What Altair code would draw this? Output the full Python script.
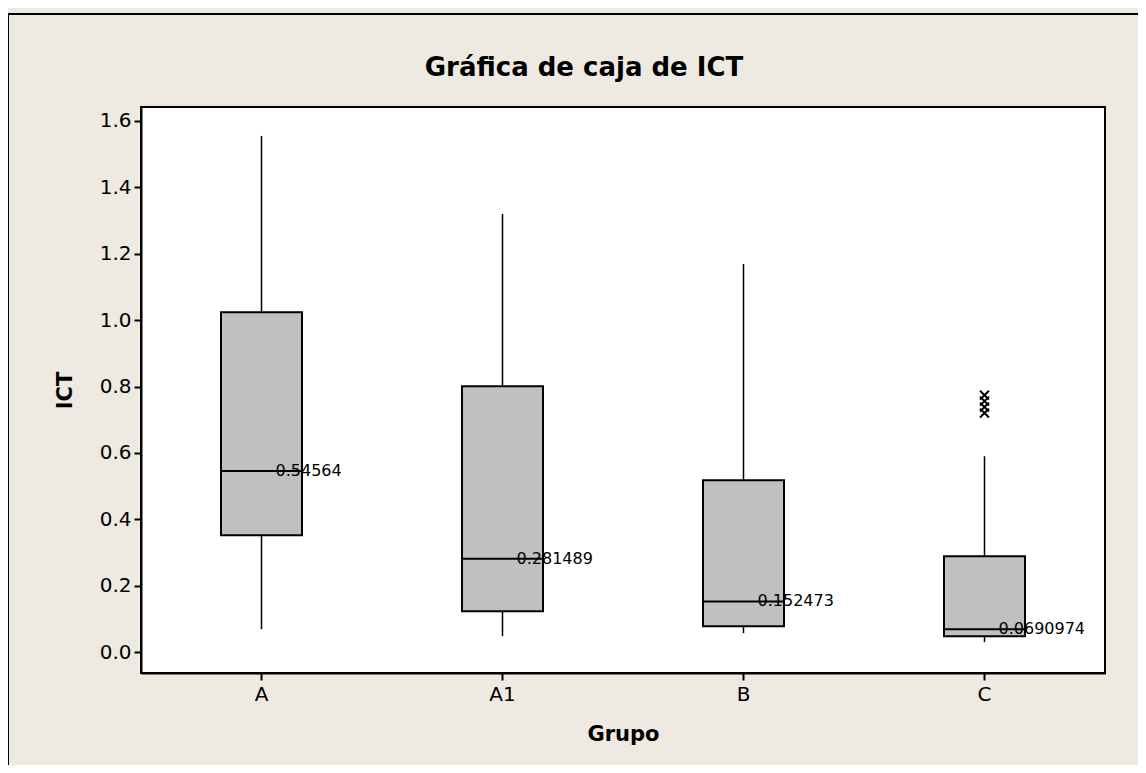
import altair as alt
import pandas as pd

grupos = ["A", "A1", "B", "C"]
whisker_low = [0.069, 0.048, 0.057, 0.030]
q1 = [0.352, 0.123, 0.078, 0.048]
medianas = [0.54564, 0.281489, 0.152473, 0.0690974]
q3 = [1.024, 0.801, 0.518, 0.289]
whisker_high = [1.555, 1.320, 1.169, 0.590]
etiquetas = ["0.54564", "0.281489", "0.152473", "0.0690974"]

outlier_grupo = ["C", "C", "C", "C"]
outlier_valor = [0.720, 0.738, 0.756, 0.774]

y_ticks = [0.0, 0.2, 0.4, 0.6, 0.8, 1.0, 1.2, 1.4, 1.6]

df = pd.DataFrame({
    "Grupo": grupos, "low": whisker_low, "q1": q1, "med": medianas,
    "q3": q3, "high": whisker_high, "lab": etiquetas,
})
df_out = pd.DataFrame({"Grupo": outlier_grupo, "ICT": outlier_valor})

FONT = "DejaVu Sans"
BG = "#EEEAE1"

xenc = alt.X("Grupo:N", scale=alt.Scale(domain=grupos, paddingInner=0, paddingOuter=0),
             axis=alt.Axis(title="Grupo", labelAngle=0, labelFontSize=20, labelFont=FONT,
                           labelColor="black", tickSize=7, tickColor="black", tickWidth=2,
                           domainColor="black", domainWidth=2, labelPadding=4,
                           titleFont=FONT, titleFontSize=21, titleFontWeight="bold",
                           titleColor="black", titlePadding=19))
yscale = alt.Scale(domain=[-0.063, 1.642], nice=False, zero=False)
yaxis = alt.Axis(title="ICT", values=y_ticks, format=".1f", labelFontSize=20, labelFont=FONT,
                 labelColor="black", tickSize=7, tickColor="black", tickWidth=2,
                 domainColor="black", domainWidth=2, grid=False, labelPadding=3,
                 titleFont=FONT, titleFontSize=21, titleFontWeight="bold",
                 titleColor="black", titlePadding=24)

base = alt.Chart(df)

whisk_lo = base.mark_rule(color="black", strokeWidth=1.5).encode(
    x=xenc, y=alt.Y("low:Q", scale=yscale, axis=yaxis), y2="q1:Q")
whisk_hi = base.mark_rule(color="black", strokeWidth=1.5).encode(
    x=xenc, y=alt.Y("q3:Q", scale=yscale, axis=yaxis), y2="high:Q")
box = base.mark_bar(size=81, color="#C0C0C0", stroke="black", strokeWidth=2).encode(
    x=xenc, y=alt.Y("q1:Q", scale=yscale, axis=yaxis), y2="q3:Q")
med = base.mark_tick(size=81, thickness=2, color="black", opacity=1).encode(
    x=xenc, y=alt.Y("med:Q", scale=yscale, axis=yaxis))
txt = base.mark_text(align="left", baseline="middle", dx=14, fontSize=16, font=FONT,
                     color="black").encode(
    x=xenc, y=alt.Y("med:Q", scale=yscale, axis=yaxis), text="lab:N")
outs = alt.Chart(df_out).mark_point(shape="M-1,-1L1,1M-1,1L1,-1", size=80, filled=False,
                                    color="black", strokeWidth=2, opacity=1).encode(
    x=xenc, y=alt.Y("ICT:Q", scale=yscale, axis=yaxis))

frame_left = alt.Chart(df).mark_rule(color="black", strokeWidth=2).encode(
    x=alt.value(-133), y=alt.value(-93), y2=alt.value(720))
frame_top = alt.Chart(df).mark_rule(color="black", strokeWidth=2).encode(
    x=alt.value(-133), x2=alt.value(1100), y=alt.value(-93))

chart = alt.layer(frame_left, frame_top, whisk_lo, whisk_hi, box, med, txt, outs).properties(
    width=964, height=566,
    autosize=alt.AutoSizeParams(type="none"),
    padding={"left": 133, "top": 99, "right": 33, "bottom": 92},
    background=BG,
    title=alt.Title("Gráfica de caja de ICT", font=FONT, fontSize=26, fontWeight="bold",
                    color="black", anchor="middle", dx=-39, offset=-68),
).configure_view(fill="white", stroke="black", strokeWidth=2)

chart.save("out.html", embed_options={"renderer": "svg", "actions": False})
